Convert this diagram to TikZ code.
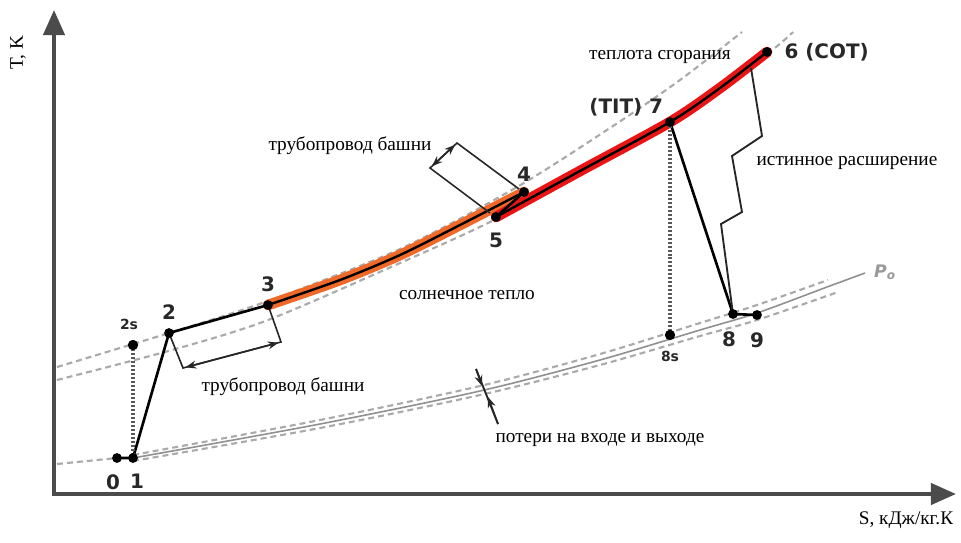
\documentclass[tikz,border=0pt]{standalone}
\usepackage{fontspec}
\setmainfont{Liberation Serif}
\newfontfamily\ptfont{DejaVu Sans}
\usetikzlibrary{arrows.meta, positioning}
\definecolor{axisgray}{RGB}{75,75,75}
\definecolor{linegray}{RGB}{170,170,170}
\definecolor{numgray}{RGB}{40,40,40}
\definecolor{solar}{RGB}{240,105,40}
\definecolor{fuel}{RGB}{235,20,20}

\begin{document}
\begin{tikzpicture}[
  x=0.02646cm, y=-0.02646cm,
  axis/.style={draw=axisgray, line width=3pt, line join=miter,
               {Triangle[length=19pt,width=16pt]}-{Triangle[length=19pt,width=16pt]}},
  isobar/.style={draw=linegray, line width=1.6pt, dash pattern=on 4.5pt off 3pt},
  lowp/.style={draw=linegray!85!black, line width=1.2pt},
  proc/.style={draw=black, line width=2pt, line join=round},
  heat/.style={line width=8pt, line cap=round},
  core/.style={draw=black, line width=1.8pt},
  isen/.style={draw=black!65, line width=2.6pt, dash pattern=on 1.5pt off 1.5pt},
  guide/.style={draw=black!85, line width=1.2pt},
  tip/.style={-{Stealth[length=8pt,width=6pt]}},
  dimtip/.style={{Stealth[length=8pt,width=6pt]}-{Stealth[length=8pt,width=6pt]}, shorten <=2pt, shorten >=2pt},
  num/.style={font=\ptfont\bfseries\fontsize{15}{17}\selectfont, text=numgray, inner sep=1pt},
  subnum/.style={font=\ptfont\bfseries\fontsize{10.5}{12}\selectfont, text=numgray, inner sep=1pt},
  txt/.style={font=\fontsize{14.5}{17}\selectfont, inner sep=1pt}
]
\useasboundingbox (0,0) rectangle (961,542);

% axes
\coordinate (ytop) at (54,10);
\coordinate (orig) at (54,494);
\coordinate (xend) at (956,494);
\draw[axis] (ytop) -- (orig) -- (xend);
\node[txt, rotate=90] (tlab) at (18,53) {T, K};
\node[txt] (slab) at (906,520) {S, кДж/кг.К};

% state points
\coordinate (p0) at (117,458);
\coordinate (p1) at (133,458);
\coordinate (p2s) at (133,345);
\coordinate (p2) at (169,333);
\coordinate (p3) at (268,305);
\coordinate (p4) at (524,192);
\coordinate (p5) at (496,217);
\coordinate (p6) at (767,52);
\coordinate (p7) at (670,122);
\coordinate (p8) at (733,314);
\coordinate (p8s) at (670,335);
\coordinate (p9) at (757,315);

% high pressure lines
\draw[isobar] plot[smooth] coordinates {(57,367) (169,333) (268,301) (400,249) (517,187) (613,126) (680,80) (742,32)};
\draw[isobar] plot[smooth] coordinates {(57,380) (172,350) (268,320) (400,263) (490,222) (580,173) (670,124) (767,54) (793,32)};

% low pressure line
\draw[isobar] (57,464) -- (p0);
\draw[lowp] plot[smooth] coordinates {(133,458) (320,424) (480,391) (600,360) (700,330) (757,313) (827,287) (865,273)};
\draw[isobar] plot[smooth] coordinates {(133,455) (320,420) (480,386) (600,354) (700,323) (757,305) (828,280)};
\draw[isobar] plot[smooth] coordinates {(133,461) (320,428) (480,395) (600,365) (700,336) (757,320) (838,292)};
\node[font=\ptfont\bfseries\itshape\fontsize{13}{15}\selectfont, text=linegray!90!black] (po) at (885,272) {P\textsubscript{o}};

% heat input
\draw[heat, draw=solar] plot[smooth] coordinates {(p3) (340,280) (400,255) (460,225) (p4)};
\draw[heat, draw=fuel] plot[smooth] coordinates {(p5) (580,171) (p7) (720,88) (p6)};
\draw[core] plot[smooth] coordinates {(p3) (340,280) (400,255) (460,225) (p4)};
\draw[core] plot[smooth] coordinates {(p5) (580,171) (p7) (720,88) (p6)};
\draw[proc] (p4) -- (p5);

% compression and expansion
\draw[proc] (p0) -- (p1) -- (p2) -- (p3);
\draw[proc] (p7) -- (p8) -- (p9);
\draw[isen] (p2s) -- (p1);
\draw[isen] (p7) -- (p8s);

% real expansion
\coordinate (r6) at (751,68);
\draw[guide, line width=1.4pt] (r6) -- (762,136) -- (732,156) -- (742,212) -- (721,224) -- (p8);

% tower piping
\coordinate (b2) at (183,368);
\coordinate (b3) at (281,342);
\draw[guide] (p2) -- (b2) -- (b3) -- (p3);
\draw[guide, dimtip] (b2) -- (b3);
\coordinate (b4) at (457,143);
\coordinate (b5) at (430,168);
\coordinate (e4) at (519,189);
\coordinate (e5) at (490,213);
\draw[guide] (e4) -- (b4) -- (b5) -- (e5);
\draw[guide, dimtip] (b5) -- (b4);

% inlet and outlet losses
\coordinate (l1) at (476,369);
\coordinate (l2) at (498,424);
\coordinate (a1) at (482,386);
\coordinate (a2) at (488,397);
\draw[guide, line width=1.4pt] (l1) -- (l2);
\draw[guide, tip] (l1) -- (a1);
\draw[guide, tip] (l2) -- (a2);

% dots
\foreach \p in {p0,p1,p2,p3,p4,p5,p6,p7,p8,p9}
  \fill (\p) circle (3.7pt);
\foreach \p in {p2s,p8s}
  \fill (\p) circle (3.9pt);

% point labels
\node[num, below=11pt of p0, xshift=-3pt] (n0) {0};
\node[num, below=11pt of p1, xshift=3pt] (n1) {1};
\node[subnum, above=10pt of p2s, xshift=-3pt] (n2s) {2s};
\node[num, above=9pt of p2] (n2) {2};
\node[num, above=9pt of p3] (n3) {3};
\node[num, above=7pt of p4] (n4) {4};
\node[num, below=11pt of p5] (n5) {5};
\node[num, right=12pt of p6] (n6) {6 (COT)};
\node[num, above left=3pt and 4pt of p7] (n7) {(TIT) 7};
\node[num, below=12pt of p8, xshift=-3pt] (n8) {8};
\node[num, below=12pt of p9] (n9) {9};
\node[subnum, below=11pt of p8s] (n8s) {8s};

% texts
\node[txt] (pipelow) at (283,387) {трубопровод башни};
\node[txt] (pipeup) at (350,146) {трубопровод башни};
\node[txt] (solarq) at (467,295) {солнечное тепло};
\node[txt] (fuelq) at (660,57) {теплота сгорания};
\node[txt] (realexp) at (847,163) {истинное расширение};
\node[txt] (losses) at (600,440) {потери на входе и выходе};
\end{tikzpicture}
\end{document}
